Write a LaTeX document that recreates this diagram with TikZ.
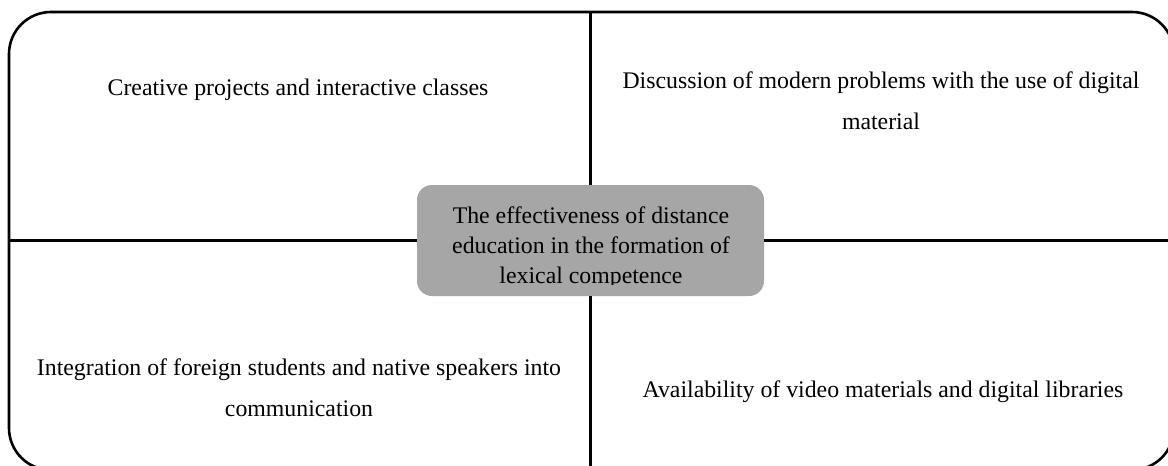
\documentclass[tikz,border=0pt]{standalone}
\usepackage{fontspec}
\setmainfont{Liberation Serif}
\begin{document}
\begin{tikzpicture}[x=1pt,y=-1pt,
  frame/.style={line width=2.6pt,draw=black},
  conn/.style={line width=2.6pt,draw=black},
  label/.style={font=\fontsize{23.8}{41}\selectfont,align=center,inner sep=0pt,anchor=base},
  hub/.style={fill=black!35,rounded corners=15pt,minimum width=347pt,minimum height=111pt,inner sep=0pt},
  hubtext/.style={font=\fontsize{23.8}{30}\selectfont,align=center,inner sep=0pt,anchor=base}]
\useasboundingbox (0,0) rectangle (1168,466);
\clip (0,0) rectangle (1168,466);
% outer frame
\draw[frame,rounded corners=42pt] (9,12) rectangle (1174,470);
% hub
\node[hub] (hub) at (590.5,240.5) {};
\coordinate (T) at (591,12);
\coordinate (B) at (591,470);
\coordinate (L) at (9,240);
\coordinate (R) at (1172,240);
\draw[conn] (hub.north) -- (hub.north |- T);
\draw[conn] (hub.south) -- (hub.south |- B);
\draw[conn] (hub.west) -- (hub.west -| L);
\draw[conn] (hub.east) -- (hub.east -| R);
\begin{scope}
\clip (hub.north west) rectangle ([yshift=12pt]hub.south east);
\node[hubtext] (hubt) at (591,283.5) {The effectiveness of distance\\education in the formation of\\lexical competence};
\end{scope}
% quadrant texts
\node[label] (tl) at (298,95) {Creative projects and interactive classes};
\node[label] (tr) at (881,129) {Discussion of modern problems with the use of digital\\material};
\node[label] (bl) at (299,416) {Integration of foreign students and native speakers into\\communication};
\node[label] (br) at (883,397) {Availability of video materials and digital libraries};
\end{tikzpicture}
\end{document}
